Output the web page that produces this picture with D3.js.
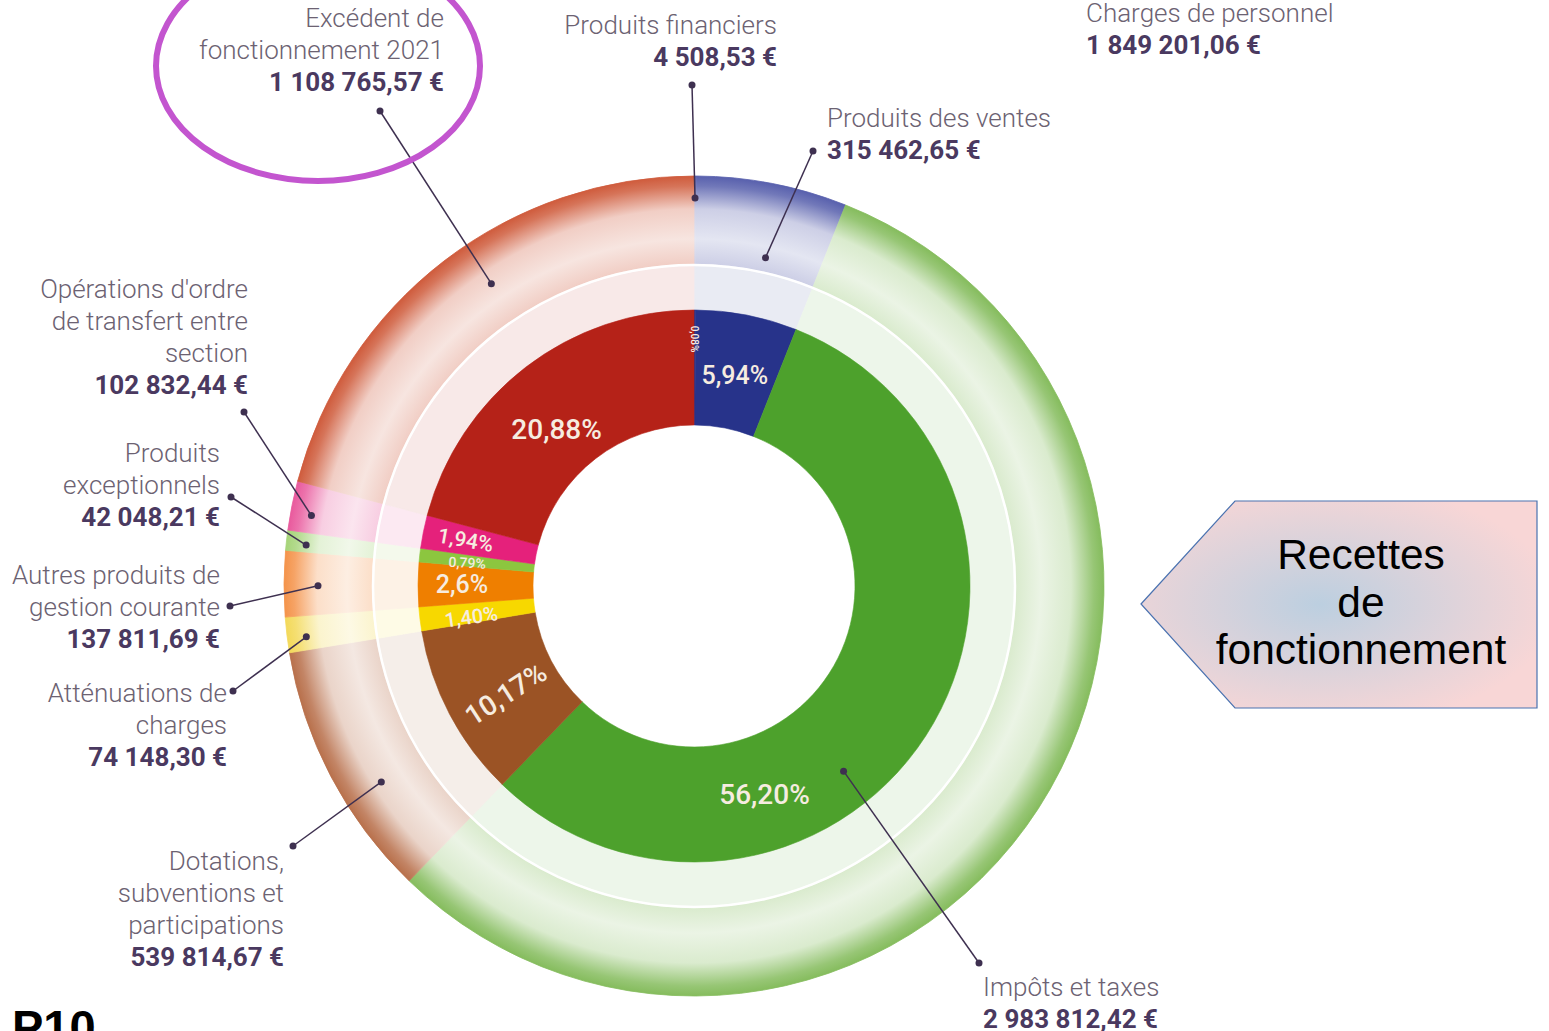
<!DOCTYPE html>
<html>
<head>
<meta charset="utf-8">
<script src="https://cdn.jsdelivr.net/npm/d3@7"></script>
<style>
  html, body { margin: 0; padding: 0; background: #fff; overflow: hidden; }
  svg { display: block; }
</style>
</head>
<body>
<div id="chart"></div>
<script>
// data, clockwise from 12 o'clock
const categories = ["Produits financiers", "Produits des ventes", "Impôts et taxes",
  "Dotations, subventions et participations", "Atténuations de charges",
  "Autres produits de gestion courante", "Produits exceptionnels",
  "Opérations d'ordre de transfert entre section", "Excédent de fonctionnement 2021"];
const amounts = [4508.53, 315462.65, 2983812.42, 539814.67, 74148.30, 137811.69, 42048.21, 102832.44, 1108765.57];
const pctLabels = ["0,08%", "5,94%", "56,20%", "10,17%", "1,40%", "2,6%", "0,79%", "1,94%", "20,88%"];
const innerColors = ["#27338a", "#27338a", "#4da12c", "#9b5325", "#f7d800", "#ef7f00", "#8cc63f", "#e5217b", "#b52218"];
const ringColors = ["#5860ad", "#5860ad", "#85bc5d", "#b8704b", "#f3d95a", "#f4934a", "#a6d479", "#e95a9d", "#cf5b3c"];

// label that sits on the page but has no slice
const extraLabel = ["Charges de personnel"];
const extraAmount = [1849201.06];

const W = 1549, H = 1031;
const cx = 694, cy = 586;
const R = {hole: 161, inner: 276, band: 320, ringIn: 322, ringOut: 410};

const fr = d3.formatLocale({decimal: ",", thousands: " ", grouping: [3], currency: ["", " €"]});
const money = fr.format("$,.2f");

// label layout: text lines, text position, label-side dot, anchor on chart (t along slice, radius)
const labelLayout = [
  {lines: ["Produits financiers"], x: 777, y: 34, anchor: "end", dot: [692, 85], t: 0.5, r: 388},
  {lines: ["Produits des ventes"], x: 827, y: 127, anchor: "start", dot: [813, 151], t: 0.56, r: 336},
  {lines: ["Impôts et taxes"], x: 983, y: 996, anchor: "start", dot: [979, 963], t: 0.59, r: 238},
  {lines: ["Dotations,", "subventions et", "participations"], x: 284, y: 870, anchor: "end", dot: [293, 846], t: 0.38, r: 369},
  {lines: ["Atténuations de", "charges"], x: 227, y: 702, anchor: "end", dot: [233, 691], t: 0.38, r: 391},
  {lines: ["Autres produits de", "gestion courante"], x: 220, y: 584, anchor: "end", dot: [230, 606], t: 0.47, r: 376},
  {lines: ["Produits", "exceptionnels"], x: 220, y: 462, anchor: "end", dot: [231, 497], t: 0.36, r: 390},
  {lines: ["Opérations d'ordre", "de transfert entre", "section"], x: 248, y: 298, anchor: "end", dot: [244, 412], t: 0.37, r: 389},
  {lines: ["Excédent de", "fonctionnement 2021"], x: 444, y: 27, anchor: "end", dot: [380, 111], t: 0.55, r: 364}
];
// percentage text inside the solid donut
const pctLayout = [
  {t: 0.5, r: 247, rot: 90, size: 10},
  {t: 0.5, r: 214, rot: 0, size: 25},
  {t: 0.69, r: 220, rot: 0, size: 28},
  {t: 0.44, r: 217, rot: -33, size: 28},
  {t: 0.3, r: 225, rot: -8, size: 20},
  {t: 0.5, r: 232, rot: 0, size: 25},
  {t: 0.3, r: 228, rot: 3, size: 14},
  {t: 0.5, r: 233, rot: 10, size: 21},
  {t: 0.45, r: 208, rot: 0, size: 28}
];

const svg = d3.select("#chart").append("svg")
  .attr("width", W)
  .attr("height", H);

const defs = svg.append("defs");

const pie = d3.pie().sort(null).value(d => d)(amounts);

// outer ring gradients (dark at the rim, washed out towards the center)
ringColors.forEach((c, i) => {
  let g = defs.append("radialGradient")
    .attr("id", "ring" + i)
    .attr("gradientUnits", "userSpaceOnUse")
    .attr("cx", 0).attr("cy", 0).attr("r", R.ringOut);
  let stops = [
    [R.ringIn / R.ringOut, 0.3],
    [(R.ringIn + 25) / R.ringOut, 0.16],
    [(R.ringIn + 55) / R.ringOut, 0.3],
    [(R.ringOut - 10) / R.ringOut, 0.85],
    [1, 1]
  ];
  stops.forEach(s => {
    g.append("stop")
      .attr("offset", s[0])
      .attr("stop-color", d3.interpolateRgb("#ffffff", c)(s[1]));
  });
});

const g = svg.append("g").attr("transform", `translate(${cx},${cy})`);

const ringArc = d3.arc().innerRadius(R.ringIn).outerRadius(R.ringOut);
const bandArc = d3.arc().innerRadius(R.inner).outerRadius(R.band);
const innerArc = d3.arc().innerRadius(R.hole).outerRadius(R.inner);

g.selectAll(".ring").data(pie).enter().append("path")
  .attr("class", "ring")
  .attr("d", ringArc)
  .attr("fill", (d, i) => `url(#ring${i})`)
  .attr("stroke", (d, i) => `url(#ring${i})`)
  .attr("stroke-width", 0.8);

g.selectAll(".band").data(pie).enter().append("path")
  .attr("class", "band")
  .attr("d", bandArc)
  .attr("fill", (d, i) => d3.interpolateRgb("#ffffff", innerColors[i])(0.1))
  .attr("stroke", (d, i) => d3.interpolateRgb("#ffffff", innerColors[i])(0.1))
  .attr("stroke-width", 0.8);

g.append("circle")
  .attr("r", R.band + 1)
  .attr("fill", "none")
  .attr("stroke", "#ffffff")
  .attr("stroke-width", 2.5);

g.selectAll(".slice").data(pie).enter().append("path")
  .attr("class", "slice")
  .attr("d", innerArc)
  .attr("fill", (d, i) => innerColors[i])
  .attr("stroke", (d, i) => innerColors[i])
  .attr("stroke-width", 0.6);

function polar(d, t, r) {
  let a = d.startAngle + t * (d.endAngle - d.startAngle);
  return [r * Math.sin(a), -r * Math.cos(a)];
}

// percentages
g.selectAll(".pct").data(pie).enter().append("text")
  .attr("class", "pct")
  .attr("transform", (d, i) => {
    let p = polar(d, pctLayout[i].t, pctLayout[i].r);
    return `translate(${p[0]},${p[1]}) rotate(${pctLayout[i].rot})`;
  })
  .attr("text-anchor", "middle")
  .attr("dominant-baseline", "central")
  .attr("font-family", "Roboto, 'Noto Sans', sans-serif")
  .attr("font-weight", 500)
  .attr("font-size", (d, i) => pctLayout[i].size)
  .attr("fill", "#f6ece0")
  .text((d, i) => pctLabels[i]);

// leader lines
const lines = svg.append("g");
pie.forEach((d, i) => {
  let L = labelLayout[i];
  let p = polar(d, L.t, L.r);
  let x2 = cx + p[0], y2 = cy + p[1];
  lines.append("line")
    .attr("x1", L.dot[0]).attr("y1", L.dot[1])
    .attr("x2", x2).attr("y2", y2)
    .attr("stroke", "#3e3050")
    .attr("stroke-width", 1.5);
  lines.append("circle").attr("cx", L.dot[0]).attr("cy", L.dot[1]).attr("r", 3.5).attr("fill", "#3e3050");
  lines.append("circle").attr("cx", x2).attr("cy", y2).attr("r", 3.5).attr("fill", "#3e3050");
});

// text labels
const lineH = 32;
function drawLabel(lines, value, x, y, anchor) {
  let t = svg.append("text")
    .attr("text-anchor", anchor)
    .attr("font-family", "Roboto, 'Noto Sans', sans-serif")
    .attr("font-size", 26);
  lines.forEach((s, k) => {
    t.append("tspan")
      .attr("x", x).attr("y", y + k * lineH)
      .attr("font-weight", 300)
      .attr("fill", "#6c6272")
      .text(s);
  });
  t.append("tspan")
    .attr("x", x).attr("y", y + lines.length * lineH)
    .attr("font-weight", 700)
    .attr("fill", "#4a3960")
    .text(money(value));
}

pie.forEach((d, i) => {
  let L = labelLayout[i];
  drawLabel(L.lines, amounts[i], L.x, L.y, L.anchor);
});
drawLabel(extraLabel, extraAmount[0], 1086, 22, "start");

// highlight ellipse round the surplus label
svg.append("ellipse")
  .attr("cx", 318).attr("cy", 66)
  .attr("rx", 162).attr("ry", 115)
  .attr("fill", "none")
  .attr("stroke", "#c355cf")
  .attr("stroke-width", 6);

// callout arrow on the right
const grad = defs.append("radialGradient")
  .attr("id", "callout")
  .attr("cx", 0.45).attr("cy", 0.5).attr("r", 0.6);
grad.append("stop").attr("offset", 0).attr("stop-color", "#bccfe0");
grad.append("stop").attr("offset", 1).attr("stop-color", "#f8d6d6");

svg.append("polygon")
  .attr("points", [[1141, 604], [1235, 501], [1537, 501], [1537, 708], [1235, 708]].map(p => p.join(",")).join(" "))
  .attr("fill", "url(#callout)")
  .attr("stroke", "#4a72b0")
  .attr("stroke-width", 1.2);

const calloutText = ["Recettes", "de", "fonctionnement"];
svg.append("text")
  .attr("text-anchor", "middle")
  .attr("font-family", "'Liberation Sans', Arial, sans-serif")
  .attr("font-size", 42.5)
  .attr("fill", "#000")
  .selectAll("tspan").data(calloutText).enter().append("tspan")
  .attr("x", 1361)
  .attr("y", (d, i) => 569 + i * 47.5)
  .text(d => d);

// page number, cut by the bottom edge
svg.append("text")
  .attr("x", 12).attr("y", 1043)
  .attr("font-family", "'Liberation Sans', Arial, sans-serif")
  .attr("font-weight", 700)
  .attr("font-size", 47)
  .attr("fill", "#000")
  .text("P10");
</script>
</body>
</html>
